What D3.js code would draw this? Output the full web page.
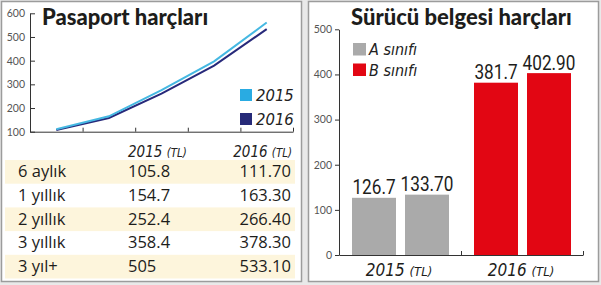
<!DOCTYPE html>
<html><head><meta charset="utf-8">
<script src="https://cdn.jsdelivr.net/npm/d3@7"></script>
<style>
html,body{margin:0;padding:0;background:#e9e9e9;}
svg{display:block;}
</style></head>
<body>
<script>
// ---- data ----
const lineCats = ["6 aylık","1 yıllık","2 yıllık","3 yıllık","3 yıl+"];
const line2015 = [110, 165, 276, 397, 561];   // light blue line (as drawn)
const line2016 = [107, 158, 261, 379, 533];   // dark blue line (as drawn)
const lineTicks = [100, 200, 300, 400, 500, 600];
const tableRows = ["6 aylık","1 yıllık","2 yıllık","3 yıllık","3 yıl+"];
const table2015 = ["105.8","154.7","252.4","358.4","505"];
const table2016 = ["111.70","163.30","266.40","378.30","533.10"];
const barYears = ["2015","2016"];
const barValues2015 = [126.7, 133.70];
const barValues2016 = [381.7, 402.90];
const barLabels2015 = ["126.7","133.70"];
const barLabels2016 = ["381.7","402.90"];
const barTicks = [0, 100, 200, 300, 400, 500];
const legendBar = ["A sınıfı","B sınıfı"];

const W = 601, H = 285;
const svg = d3.select("body").append("svg").attr("width", W).attr("height", H);
svg.append("rect").attr("width", W).attr("height", H).attr("fill", "#e9e9e9");

// panels
svg.append("rect").attr("x", 1.5).attr("y", 1.5).attr("width", 300).attr("height", 280)
  .attr("fill", "#ffffff").attr("stroke", "#9c9c9c").attr("stroke-width", 1.5);
svg.append("rect").attr("x", 308.5).attr("y", 1.5).attr("width", 290).attr("height", 280)
  .attr("fill", "#ffffff").attr("stroke", "#9c9c9c").attr("stroke-width", 1.5);

const titleFont = "Lato, 'Open Sans', sans-serif";
const bodyFont = "'Open Sans', 'Noto Sans', sans-serif";
const condFont = "'Liberation Sans Narrow', 'DejaVu Sans Condensed', Roboto, sans-serif";

// ---------- left: line chart ----------
const xL = d3.scaleBand().domain(d3.range(lineCats.length)).range([30, 293]);
const yL = d3.scaleLinear().domain([100, 600]).range([131.7, 13.3]);

const yAxisL = svg.append("g").attr("transform", "translate(30,0)")
  .call(d3.axisLeft(yL).tickValues(lineTicks).tickSize(-5).tickSizeOuter(0).tickPadding(5));
yAxisL.select(".domain").attr("stroke", "#333");
yAxisL.selectAll(".tick line").attr("stroke", "#333");
yAxisL.selectAll("text").attr("font-family", "Lato, sans-serif").attr("font-size", 10.5).attr("fill", "#555");

const xBL = d3.scaleLinear().domain([0, lineCats.length]).range([30, 293]);
const xAxisL = svg.append("g").attr("transform", `translate(0,${yL(100)})`)
  .call(d3.axisBottom(xBL).tickValues(d3.range(1, lineCats.length + 1)).tickSize(-4).tickSizeOuter(0).tickFormat(""));
xAxisL.select(".domain").attr("stroke", "#333");
xAxisL.selectAll(".tick line").attr("stroke", "#333");

const lineGen = d3.line().x((d, i) => xL(i) + xL.bandwidth() / 2).y(d => yL(d));
svg.append("path").datum(line2016).attr("d", lineGen).attr("fill", "none")
  .attr("stroke", "#27297a").attr("stroke-width", 2);
svg.append("path").datum(line2015).attr("d", lineGen).attr("fill", "none")
  .attr("stroke", "#45b8e2").attr("stroke-width", 2);

svg.append("text").attr("x", 42).attr("y", 25).text("Pasaport harçları")
  .attr("font-family", titleFont).attr("font-weight", 900).attr("font-size", 22).attr("fill", "#1d1d1b");

// legend left
const legL = [{k: "2015", c: "#29abe2"}, {k: "2016", c: "#262a78"}];
legL.forEach((d, i) => {
  svg.append("rect").attr("x", 240).attr("y", 89 + i * 24).attr("width", 12).attr("height", 12).attr("fill", d.c);
  svg.append("text").attr("x", 256).attr("y", 101 + i * 24).text(d.k)
    .attr("font-family", condFont).attr("font-style", "italic").attr("font-size", 16.5).attr("fill", "#222");
});

// table
const rowH = 23.7, row0 = 160;
const hdr = svg.append("g");
[{x: 128, anchor: "start", y: "2015"}, {x: 292, anchor: "end", y: "2016"}].forEach(h => {
  const t = hdr.append("text").attr("x", h.x).attr("y", 156.5).attr("text-anchor", h.anchor)
    .attr("font-family", condFont).attr("font-style", "italic").attr("fill", "#222");
  t.append("tspan").attr("font-size", 15).text(h.y + " ");
  t.append("tspan").attr("font-size", 11.5).text("(TL)");
});
tableRows.forEach((r, i) => {
  const y = row0 + i * rowH;
  if (i % 2 === 0) svg.append("rect").attr("x", 5).attr("y", y).attr("width", 290).attr("height", rowH).attr("fill", "#fdf5dc");
  const by = y + rowH / 2 + 5.5;
  svg.append("text").attr("x", 18).attr("y", by).text(r)
    .attr("font-family", bodyFont).attr("font-size", 16.5).attr("fill", "#1d1d1b");
  svg.append("text").attr("x", 128).attr("y", by).text(table2015[i])
    .attr("font-family", bodyFont).attr("font-size", 16.5).attr("fill", "#1d1d1b");
  svg.append("text").attr("x", 291).attr("y", by).attr("text-anchor", "end").text(table2016[i])
    .attr("font-family", bodyFont).attr("font-size", 16.5).attr("fill", "#1d1d1b");
});

// ---------- right: bar chart ----------
const x0 = d3.scaleBand().domain(barYears).range([339, 583]);
const x1 = d3.scaleBand().domain([0, 1]).range([13, 110]).paddingInner(0.17);
const yR = d3.scaleLinear().domain([0, 500]).range([255, 29.3]);

const yAxisR = svg.append("g").attr("transform", "translate(339,0)")
  .call(d3.axisLeft(yR).tickValues(barTicks).tickSize(4).tickSizeOuter(0).tickPadding(3));
yAxisR.select(".domain").attr("stroke", "#333");
yAxisR.selectAll(".tick line").attr("stroke", "#333");
yAxisR.selectAll("text").attr("font-family", "Lato, sans-serif").attr("font-size", 10.5).attr("fill", "#555");

const xBR = d3.scaleLinear().domain([0, 2]).range([339, 583]);
const xAxisR = svg.append("g").attr("transform", `translate(0,${yR(0)})`)
  .call(d3.axisBottom(xBR).tickValues([1, 2]).tickSize(-4).tickSizeOuter(0).tickFormat(""));
xAxisR.select(".domain").attr("stroke", "#333");
xAxisR.selectAll(".tick line").attr("stroke", "#333");

const groups = [
  {year: "2015", vals: barValues2015, labels: barLabels2015, color: "#aaaaaa"},
  {year: "2016", vals: barValues2016, labels: barLabels2016, color: "#e20613"}
];
groups.forEach(g => {
  g.vals.forEach((v, j) => {
    const bx = x0(g.year) + x1(j);
    svg.append("rect").attr("x", bx).attr("y", yR(v)).attr("width", x1.bandwidth())
      .attr("height", yR(0) - yR(v)).attr("fill", g.color);
    svg.append("g").attr("transform", `translate(${bx + x1.bandwidth() / 2},${yR(v) - 3.5}) scale(0.86,1)`)
      .append("text").attr("text-anchor", "middle").text(g.labels[j])
      .attr("font-family", "Roboto, sans-serif").attr("font-weight", 400).attr("font-size", 20).attr("fill", "#1d1d1b");
  });
  const t = svg.append("text").attr("x", x0(g.year) + x0.bandwidth() / 2 - 1).attr("y", 276)
    .attr("text-anchor", "middle").attr("font-family", condFont).attr("font-style", "italic").attr("fill", "#1d1d1b");
  t.append("tspan").attr("font-size", 17).text(g.year + " ");
  t.append("tspan").attr("font-size", 13).text("(TL)");
});

svg.append("text").attr("x", 351).attr("y", 25).text("Sürücü belgesi harçları")
  .attr("font-family", titleFont).attr("font-weight", 900).attr("font-size", 22).attr("fill", "#1d1d1b");

[{c: "#aaaaaa"}, {c: "#e20613"}].forEach((d, i) => {
  svg.append("rect").attr("x", 353).attr("y", 43 + i * 20.5).attr("width", 13).attr("height", 12.5).attr("fill", d.c);
  svg.append("text").attr("x", 369).attr("y", 55 + i * 20.5).text(legendBar[i])
    .attr("font-family", condFont).attr("font-style", "italic").attr("font-size", 16).attr("fill", "#222");
});
</script>
</body></html>
